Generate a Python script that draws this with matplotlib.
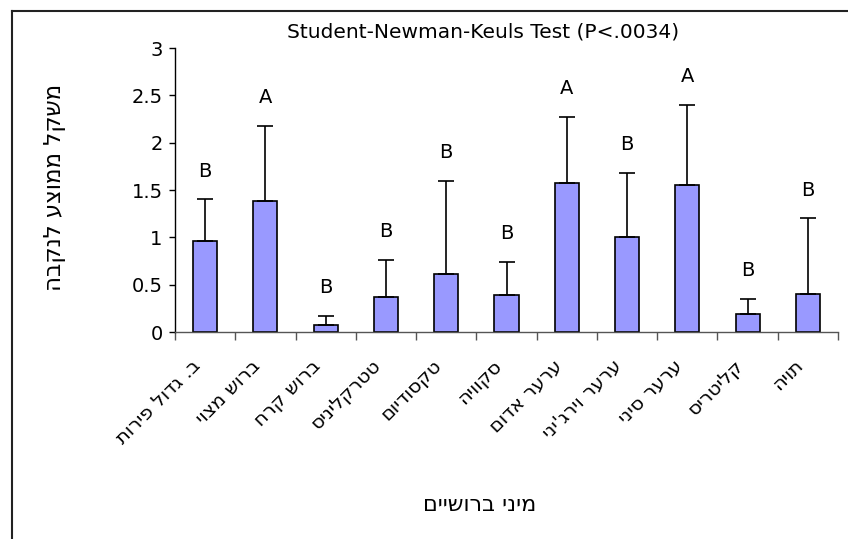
import matplotlib
matplotlib.use("Agg")
import matplotlib.pyplot as plt
import matplotlib.transforms as mtransforms
import numpy as np
from matplotlib.lines import Line2D

# species names (logical Hebrew order)
species = ["ב. גדול פירות", "ברוש מצוי", "ברוש קרח", "טטרקליניס", "טקסודיום",
           "סקוויה", "ערער אדום", "ערער וירג'יני", "ערער סיני", "קליטריס", "תויה"]
mean_w = [0.96, 1.38, 0.07, 0.37, 0.61, 0.39, 1.57, 1.00, 1.55, 0.19, 0.40]
sd_w = [0.44, 0.80, 0.10, 0.39, 0.99, 0.35, 0.70, 0.68, 0.85, 0.16, 0.80]
groups = ["B", "A", "B", "B", "B", "B", "A", "B", "A", "B", "B"]
yticks = [0, 0.5, 1, 1.5, 2, 2.5, 3]
ytick_labels = ["0", "0.5", "1", "1.5", "2", "2.5", "3"]

title = "Student-Newman-Keuls Test (P<.0034)"
ylab = "משקל ממוצע לנקבה"
xlab = "מיני ברושיים"

def heb(s):
    # matplotlib has no bidi, so flip the string for display
    return s[::-1]

plt.rcParams['font.family'] = ['DejaVu Sans']
fs = 14

W, H = 848, 539
fig = plt.figure(figsize=(W/100., H/100.), dpi=100)
fig.patch.set_facecolor("white")
ax = fig.add_axes([175./W, 1-332./H, (838.-175.)/W, (332.-48.)/H])

x = np.arange(len(species))
ax.bar(x, mean_w, width=0.4, color="#9999FF", edgecolor="black", linewidth=1.2, zorder=2)
ax.errorbar(x, mean_w, yerr=[np.zeros(len(sd_w)), sd_w], fmt="none", ecolor="black",
            elinewidth=1.2, capsize=6, capthick=1.2, zorder=3)

# letters of the SNK groups above each error bar
for i in range(len(x)):
    ax.text(x[i], mean_w[i] + sd_w[i] + 0.3, groups[i], ha="center", va="center", fontsize=fs)

ax.set_xlim(-0.5, len(species) - 0.5)
ax.set_ylim(0, 3)
ax.set_yticks(yticks)
ax.set_yticklabels(ytick_labels, fontsize=fs)
ax.tick_params(axis="y", direction="out", length=4, width=1, pad=5)

# labels at the centers, tick marks at the category edges
ax.set_xticks(x)
ax.set_xticklabels([heb(s) for s in species], rotation=45, ha="right", va="center",
                   rotation_mode="anchor", fontsize=fs)
ax.tick_params(axis="x", which="major", length=0, pad=22)
shift = mtransforms.ScaledTranslation(-8/100., 0, fig.dpi_scale_trans)
for lab in ax.get_xticklabels():
    lab.set_transform(lab.get_transform() + shift)
ax.set_xticks(np.arange(len(species) + 1) - 0.5, minor=True)
ax.tick_params(axis="x", which="minor", direction="out", length=6, width=1, color="#555555")

ax.spines["top"].set_visible(False)
ax.spines["right"].set_visible(False)
ax.spines["left"].set_linewidth(1)
ax.spines["bottom"].set_linewidth(1)
ax.spines["bottom"].set_color("#555555")

fig.text(483./W, 1-32./H, title, ha="center", va="center", fontsize=fs+0.5)
fig.text(54./W, 1-187./H, heb(ylab), ha="center", va="center", rotation=90, fontsize=16.5)
fig.text(480./W, 1-505./H, heb(xlab), ha="center", va="center", fontsize=16)

# chart frame, only the top and left edges fall inside the picture
fig.add_artist(Line2D([11.5/W, 11.5/W], [0, 1-10.5/H], color="#222222", linewidth=1.5, transform=fig.transFigure))
fig.add_artist(Line2D([11.5/W, 1], [1-10.5/H, 1-10.5/H], color="#222222", linewidth=1.5, transform=fig.transFigure))

fig.savefig("out.png", dpi=100)
